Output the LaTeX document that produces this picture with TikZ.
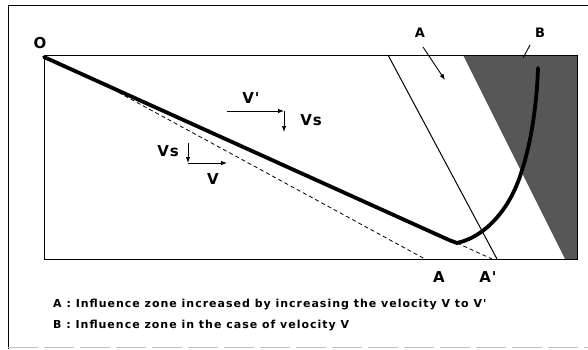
\documentclass[tikz,border=0pt]{standalone}
\usepackage{fontspec}
\setmainfont{DejaVu Sans}
\newfontfamily\legendfont[LetterSpace=9]{DejaVu Sans}
\newfontfamily\lblfont[LetterSpace=6]{DejaVu Sans}
\usetikzlibrary{arrows.meta}
\tikzset{
  lbl/.style={font=\lblfont\bfseries\fontsize{15}{15}\selectfont, inner sep=0pt},
  smalllbl/.style={font=\lblfont\bfseries\fontsize{13}{13}\selectfont, inner sep=0pt},
  legendtxt/.style={font=\legendfont\bfseries\fontsize{11}{13}\selectfont, anchor=west, inner sep=0pt},
  arr/.style={-{Latex[length=6pt,width=4.5pt]}, line width=0.9pt},
  thickline/.style={line width=3.8pt, line join=round, line cap=round},
  dashline/.style={line width=0.8pt, dash pattern=on 4pt off 3pt},
  zone/.style={fill=black!66},
}
\begin{document}
\begin{tikzpicture}[x=1pt,y=-1pt]
\useasboundingbox (0,0) rectangle (588,349);
% outer frame
\draw[line width=1pt] (8,349) -- (8,5) -- (588,5);
\draw[line width=0.8pt, gray!50, dash pattern=on 30pt off 6pt] (8,347) -- (588,347);
% dark zone B
\coordinate (Z1) at (463,55);
\coordinate (Z2) at (577,55);
\coordinate (Z3) at (577,259);
\coordinate (Z4) at (565,259);
\fill[zone] (Z1) -- (Z2) -- (Z3) -- (Z4) -- cycle;
% inner rectangle
\draw[line width=1pt] (44,55) rectangle (577,259);
% thin boundary of zone A
\coordinate (T1) at (388,55);
\coordinate (T2) at (497,259);
\draw[line width=1pt] (T1) -- (T2);
% dashed lines
\coordinate (O) at (44,57);
\coordinate (S) at (100,82.4);
\coordinate (D) at (425,259);
\coordinate (K) at (449,240);
\coordinate (K2) at (457,243);
\coordinate (D2) at (492,259);
\draw[dashline] (S) -- (D);
\draw[dashline] (K2) -- (D2);
% thick curve
\coordinate (C) at (522,170);
\coordinate (Ctop) at (538,68);
\draw[thickline] (O) -- (K) -- (K2) .. controls (488,236) and (512,205) .. (C) .. controls (532,140) and (537,100) .. (Ctop);
% labels
\node[lbl] (Olab) at (40,43) {O};
\node[smalllbl] (Alab) at (420,33) {A};
\node[smalllbl] (Blab) at (540,33) {B};
\coordinate (a1) at (423,47);
\coordinate (a2) at (445,80);
\draw[arr] (a1) -- (a2);
\coordinate (b1) at (530,45);
\coordinate (b2) at (523,58);
\draw[line width=0.9pt] (b1) -- (b2);
% V' and Vs arrows (upper)
\node[lbl] (Vp) at (251,98) {V'};
\node[lbl] (Vs1) at (311,120) {Vs};
\coordinate (vp1) at (227,111);
\coordinate (vp2) at (284,111);
\coordinate (vp3) at (284,132);
\draw[arr] (vp1) -- (vp2);
\draw[arr] (vp2) -- (vp3);
% V and Vs arrows (lower)
\node[lbl] (Vs2) at (168,151) {Vs};
\node[lbl] (Vl) at (213,179) {V};
\coordinate (vs1) at (188,143);
\coordinate (vs2) at (188,163);
\coordinate (vs3) at (227,163);
\draw[arr] (vs1) -- (vs2);
\draw[arr] (vs2) -- (vs3);
% bottom labels
\node[lbl] (Abot) at (439,277) {A};
\node[lbl] (Apbot) at (488,277) {A'};
% legend
\node[legendtxt] (L1) at (53,304) {A : Influence zone increased by increasing the velocity V to V'};
\node[legendtxt] (L2) at (53,325) {B : Influence zone in the case of velocity V};
\end{tikzpicture}
\end{document}
